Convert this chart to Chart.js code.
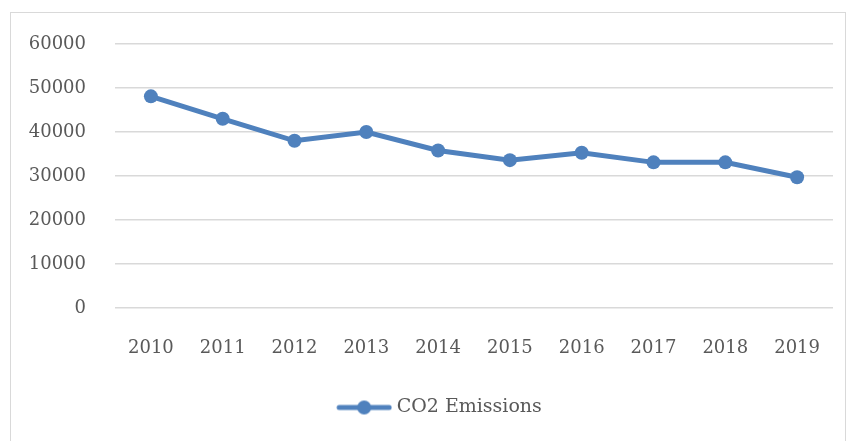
<!DOCTYPE html>
<html>
<head>
<meta charset="utf-8">
<script src="https://cdn.jsdelivr.net/npm/chart.js@4"></script>
<style>
  html, body { margin: 0; padding: 0; background: #fff; overflow: hidden; }
  #frame { position: absolute; left: 10px; top: 12px; width: 836px; height: 440px; border: 1px solid #d9d9d9; box-sizing: border-box; }
  #wrap { position: absolute; left: 0; top: 0; width: 847px; height: 441px; }
</style>
</head>
<body>
<div id="frame"></div>
<div id="wrap"><canvas id="myChart" width="847" height="441"></canvas></div>
<script>
  var years = ['2010', '2011', '2012', '2013', '2014', '2015', '2016', '2017', '2018', '2019'];
  var emissions = [48100, 43000, 38000, 40000, 35800, 33600, 35300, 33100, 33100, 29700];
  var seriesName = 'CO2 Emissions';

  var blue = '#4f81bd';
  var textColor = '#595959';
  var fontFamily = '"DejaVu Serif", serif';

  // legend marker: line with a dot, shifted right a bit to close the gap to the text
  var marker = document.createElement('canvas');
  marker.width = 66;
  marker.height = 16;
  var mctx = marker.getContext('2d');
  mctx.strokeStyle = blue;
  mctx.lineWidth = 5;
  mctx.lineCap = 'round';
  mctx.beginPath();
  mctx.moveTo(13, 8);
  mctx.lineTo(63, 8);
  mctx.stroke();
  mctx.fillStyle = blue;
  mctx.beginPath();
  mctx.arc(38, 8, 7, 0, Math.PI * 2);
  mctx.fill();

  var data = {
    labels: years,
    datasets: [{
      label: seriesName,
      data: emissions,
      borderColor: blue,
      backgroundColor: blue,
      borderWidth: 5,
      pointRadius: 7,
      pointBorderWidth: 0,
      pointHoverRadius: 7,
      tension: 0
    }]
  };

  var options = {
    responsive: false,
    animation: false,
    layout: { padding: { top: 44, right: 14, left: 0, bottom: 14 } },
    plugins: {
      tooltip: { enabled: false },
      legend: {
        position: 'bottom',
        labels: {
          color: textColor,
          font: { family: fontFamily, size: 19 },
          usePointStyle: true,
          pointStyleWidth: 56,
          boxHeight: 16,
          padding: 10,
          generateLabels: function(chart) {
            return [{
              text: seriesName,
              pointStyle: marker,
              fillStyle: blue,
              strokeStyle: blue,
              lineWidth: 0,
              fontColor: textColor,
              datasetIndex: 0
            }];
          }
        }
      }
    },
    scales: {
      x: {
        offset: true,
        grid: { display: false, drawTicks: true, tickLength: 26 },
        border: { display: false },
        ticks: { color: textColor, font: { family: fontFamily, size: 18 }, padding: 4, maxRotation: 0 },
        afterFit: function(scale) { scale.height = 80; }
      },
      y: {
        min: 0,
        max: 60000,
        grid: { color: '#d9d9d9', lineWidth: 1.5, drawTicks: false },
        border: { display: false },
        ticks: {
          stepSize: 10000,
          color: textColor,
          font: { family: fontFamily, size: 18 },
          padding: 29,
          callback: function(v) { return String(v); }
        },
        afterFit: function(scale) { scale.width = 115; }
      }
    }
  };

  // the legend sits a little right of centre in the original
  var legendShift = {
    id: 'legendShift',
    afterLayout: function(chart) {
      chart.legend.left += 20;
      chart.legend.right += 20;
    }
  };

  var ctx = document.getElementById('myChart').getContext('2d');
  var lineChart = new Chart(ctx, {
    type: 'line',
    data: data,
    options: options,
    plugins: [legendShift]
  });
</script>
</body>
</html>
